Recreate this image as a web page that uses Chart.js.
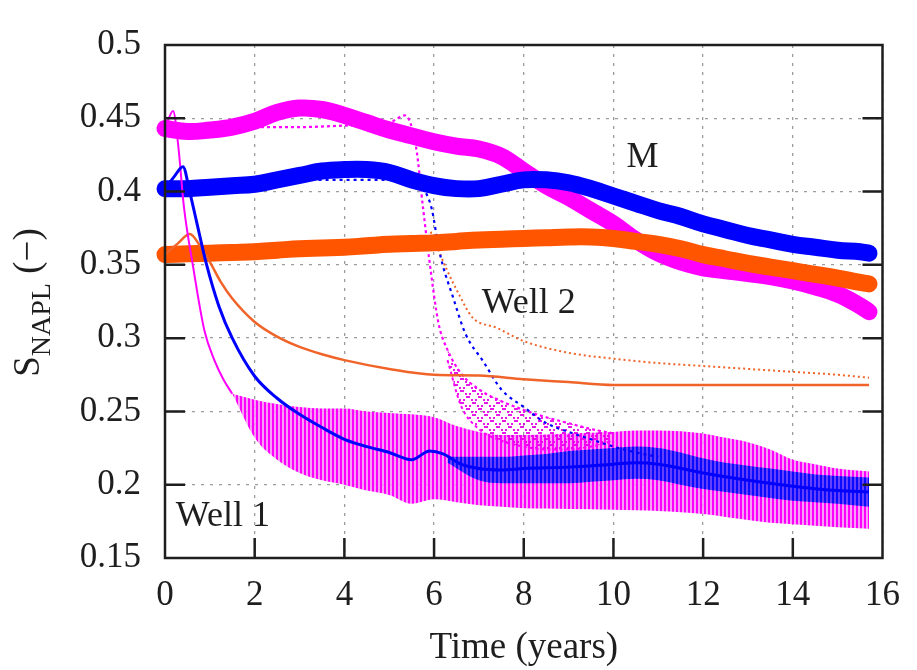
<!DOCTYPE html>
<html>
<head>
<meta charset="utf-8">
<style>
  html, body { margin: 0; padding: 0; background: #fff; }
  #wrap { width: 917px; height: 670px; }
</style>
</head>
<body>
<div id="wrap"><canvas id="napl"></canvas></div>
<script src="https://cdn.jsdelivr.net/npm/chart.js"></script>
<script>
  // axis ticks
  const xTickValues = [0, 2, 4, 6, 8, 10, 12, 14, 16];
  const xTickLabels = ['0', '2', '4', '6', '8', '10', '12', '14', '16'];
  const yTickValues = [0.15, 0.2, 0.25, 0.3, 0.35, 0.4, 0.45, 0.5];
  const yTickLabels = ['0.15', '0.2', '0.25', '0.3', '0.35', '0.4', '0.45', '0.5'];

  // mean saturation M (thick curves)
  const tM = [0, 0.5, 1, 1.5, 2, 2.5, 3, 3.5, 4, 4.5, 5, 5.5, 6, 6.5, 7, 7.5, 8, 8.5, 9, 9.5, 10, 10.5, 11, 11.5, 12, 12.5, 13, 13.5, 14, 14.5, 15, 15.5, 15.7];
  const mMagenta = [0.443, 0.441, 0.442, 0.444, 0.448, 0.454, 0.457, 0.456, 0.452, 0.447, 0.442, 0.438, 0.434, 0.431, 0.429, 0.424, 0.414, 0.404, 0.396, 0.387, 0.378, 0.367, 0.358, 0.352, 0.348, 0.346, 0.344, 0.342, 0.339, 0.335, 0.330, 0.322, 0.318];
  const mBlue = [0.402, 0.402, 0.403, 0.404, 0.405, 0.408, 0.411, 0.414, 0.415, 0.415, 0.413, 0.408, 0.404, 0.402, 0.402, 0.405, 0.408, 0.408, 0.406, 0.402, 0.397, 0.392, 0.387, 0.383, 0.378, 0.374, 0.370, 0.367, 0.364, 0.362, 0.360, 0.359, 0.358];
  const mOrange = [0.357, 0.3575, 0.358, 0.3585, 0.359, 0.360, 0.361, 0.3615, 0.362, 0.363, 0.364, 0.3645, 0.365, 0.366, 0.367, 0.3675, 0.368, 0.3685, 0.369, 0.369, 0.368, 0.366, 0.364, 0.361, 0.357, 0.354, 0.351, 0.3485, 0.346, 0.3435, 0.341, 0.338, 0.337];

  // well 1 (thin solid)
  const tW1Magenta = [0, 0.18, 0.3, 0.42, 0.62, 0.88, 1.1, 1.3, 1.5];
  const w1Magenta = [0.443, 0.455, 0.43, 0.39, 0.35, 0.305, 0.285, 0.272, 0.262];
  const tW1Blue = [0, 0.2, 0.4, 0.55, 0.7, 0.92, 1.2, 1.5, 2, 2.5, 3, 3.5, 4, 4.5, 5, 5.5, 5.9, 6.2, 6.6, 7, 7.5, 8, 9, 10, 10.5, 11, 12, 13, 14, 15, 15.7];
  const w1Blue = [0.402, 0.41, 0.417, 0.40, 0.38, 0.351, 0.322, 0.30, 0.274, 0.259, 0.248, 0.239, 0.231, 0.226, 0.222, 0.217, 0.223, 0.221, 0.214, 0.211, 0.210, 0.211, 0.212, 0.214, 0.215, 0.214, 0.208, 0.203, 0.199, 0.196, 0.195];
  const tW1Orange = [0, 0.3, 0.55, 0.8, 1, 1.25, 1.5, 2, 2.5, 3, 3.5, 4, 5, 6, 7, 8, 9, 10, 12, 14, 15.7];
  const w1Orange = [0.357, 0.365, 0.371, 0.362, 0.352, 0.338, 0.327, 0.311, 0.301, 0.294, 0.289, 0.285, 0.279, 0.275, 0.2745, 0.272, 0.270, 0.268, 0.268, 0.268, 0.268];

  // well 1 oscillation envelopes
  const tBandMagenta = [1.5, 2, 2.5, 3, 3.5, 4, 4.5, 5, 5.5, 6, 6.5, 7, 7.5, 8, 9, 10, 10.5, 11, 12, 12.5, 13, 13.5, 14, 14.5, 15, 15.7];
  const bandMagentaHi = [0.262, 0.258, 0.255, 0.253, 0.252, 0.252, 0.250, 0.249, 0.248, 0.246, 0.240, 0.236, 0.234, 0.234, 0.235, 0.236, 0.237, 0.237, 0.235, 0.232, 0.229, 0.224, 0.217, 0.214, 0.211, 0.209];
  const bandMagentaLo = [0.262, 0.232, 0.217, 0.208, 0.203, 0.200, 0.196, 0.193, 0.187, 0.190, 0.188, 0.186, 0.185, 0.184, 0.1835, 0.183, 0.1825, 0.182, 0.180, 0.178, 0.176, 0.174, 0.173, 0.172, 0.171, 0.170];
  const tBandBlue = [6.3, 7, 7.5, 8, 8.5, 9, 9.5, 10, 10.5, 11, 11.5, 12, 12.5, 13, 13.5, 14, 14.5, 15, 15.7];
  const bandBlueHi = [0.219, 0.219, 0.219, 0.220, 0.221, 0.223, 0.224, 0.225, 0.226, 0.225, 0.222, 0.218, 0.215, 0.213, 0.211, 0.209, 0.207, 0.206, 0.205];
  const bandBlueLo = [0.215, 0.203, 0.201, 0.201, 0.201, 0.201, 0.202, 0.203, 0.204, 0.203, 0.200, 0.197, 0.195, 0.193, 0.191, 0.189, 0.188, 0.187, 0.185];

  // well 2 (dotted)
  const tW2Magenta = [0, 1, 2, 3, 4, 5, 5.35, 5.6, 5.75, 5.9, 6.1, 6.3, 6.6, 7, 7.5, 8, 8.5, 9, 9.5, 10];
  const w2Magenta = [0.443, 0.444, 0.444, 0.444, 0.445, 0.447, 0.452, 0.43, 0.39, 0.352, 0.31, 0.292, 0.276, 0.265, 0.257, 0.251, 0.246, 0.242, 0.238, 0.235];
  const tMesh = [6.3, 6.6, 7, 7.5, 8, 8.5, 9, 9.5, 10];
  const meshHi = [0.292, 0.276, 0.265, 0.257, 0.251, 0.246, 0.242, 0.238, 0.235];
  const meshLo = [0.285, 0.254, 0.238, 0.230, 0.226, 0.224, 0.224, 0.226, 0.230];
  const tW2Blue = [0, 1, 2, 3, 4, 5, 5.5, 5.8, 5.95, 6.1, 6.2, 6.4, 6.7, 7.1, 7.5, 8, 8.5, 9, 9.5, 10, 10.5, 11];
  const w2Blue = [0.402, 0.406, 0.407, 0.408, 0.408, 0.408, 0.406, 0.400, 0.388, 0.362, 0.349, 0.330, 0.303, 0.284, 0.265, 0.253, 0.242, 0.236, 0.231, 0.226, 0.222, 0.219];
  const tW2Orange = [0, 1, 2, 3, 4, 5, 5.8, 5.95, 6.1, 6.28, 6.57, 6.86, 7.4, 8, 9, 10, 11, 12, 13, 14, 15, 15.7];
  const w2Orange = [0.357, 0.358, 0.359, 0.361, 0.362, 0.364, 0.366, 0.372, 0.36, 0.347, 0.329, 0.314, 0.307, 0.298, 0.29, 0.286, 0.283, 0.281, 0.279, 0.277, 0.275, 0.273];

  const MAG = '#ff00ff', BLUE = '#0000ff', ORANGE = '#ff5500', INK = '#1e1e1e';
  const SERIF = "'Liberation Serif', 'DejaVu Serif', serif";

  const canvas = document.getElementById('napl');
  const ctx0 = canvas.getContext('2d');

  function pts(t, v) { return t.map((x, i) => ({ x, y: v[i] })); }

  // vertical hatch used for the oscillating well 1 bands
  function stripes(on, off) {
    const c = document.createElement('canvas');
    c.width = 4; c.height = 1;
    const g = c.getContext('2d');
    g.fillStyle = off; g.fillRect(0, 0, 4, 1);
    g.fillStyle = on; g.fillRect(0, 0, 2, 1);
    return ctx0.createPattern(c, 'repeat');
  }
  // dotted cross-hatch for the well 2 mesh
  function mesh(col) {
    const c = document.createElement('canvas');
    c.width = 12; c.height = 12;
    const g = c.getContext('2d');
    g.fillStyle = col;
    for (let i = 0; i < 12; i += 3) { g.fillRect(i, i, 2, 2); g.fillRect(10 - i, i, 2, 2); }
    return ctx0.createPattern(c, 'repeat');
  }

  const none = 'rgba(0,0,0,0)';
  const base = { pointRadius: 0, cubicInterpolationMode: 'monotone', fill: false, borderJoinStyle: 'round' };
  const smooth = { pointRadius: 0, tension: 0.4, fill: false, borderJoinStyle: 'round', borderCapStyle: 'round', clip: 10 };

  // listed bottom layer first
  const layers = [
    { ...base, data: pts(tBandMagenta, bandMagentaLo), borderColor: none, borderWidth: 0 },
    { ...base, data: pts(tBandMagenta, bandMagentaHi), borderColor: none, borderWidth: 0, fill: '-1',
      backgroundColor: stripes('rgba(255,0,255,1)', 'rgba(248,140,248,0.85)') },
    { ...base, data: pts(tMesh, meshLo), borderColor: MAG, borderWidth: 2, borderDash: [3, 3] },
    { ...base, data: pts(tMesh, meshHi), borderColor: none, borderWidth: 0, fill: '-1',
      backgroundColor: mesh('rgba(230,0,230,0.9)') },
    { ...base, data: pts(tBandBlue, bandBlueLo), borderColor: none, borderWidth: 0 },
    { ...base, data: pts(tBandBlue, bandBlueHi), borderColor: none, borderWidth: 0, fill: '-1',
      backgroundColor: stripes('rgba(10,10,255,1)', 'rgba(60,40,255,0.8)') },
    { ...base, data: pts(tW2Orange, w2Orange), borderColor: '#f0642a', borderWidth: 2, borderDash: [2, 3] },
    { ...base, data: pts(tW2Magenta, w2Magenta), borderColor: MAG, borderWidth: 2.2, borderDash: [3, 3] },
    { ...base, data: pts(tW2Blue, w2Blue), borderColor: BLUE, borderWidth: 2.2, borderDash: [3, 4] },
    { ...smooth, data: pts(tM, mMagenta), borderColor: MAG, borderWidth: 17 },
    { ...smooth, data: pts(tM, mBlue), borderColor: BLUE, borderWidth: 17 },
    { ...smooth, data: pts(tM, mOrange), borderColor: ORANGE, borderWidth: 17 },
    { ...base, data: pts(tW1Orange, w1Orange), borderColor: '#f0642a', borderWidth: 2.5 },
    { ...base, data: pts(tW1Magenta, w1Magenta), borderColor: MAG, borderWidth: 2 },
    { ...base, data: pts(tW1Blue, w1Blue), borderColor: BLUE, borderWidth: 3 }
  ];
  layers.forEach((d, i) => { d.order = layers.length - i; });

  const notes = [
    { text: 'M', x: 10.65, y: 0.4165 },
    { text: 'Well 2', x: 8.11, y: 0.3171 },
    { text: 'Well 1', x: 1.29, y: 0.1715 }
  ];

  const frame = {
    id: 'frame',
    afterDatasetsDraw(chart) {
      const { ctx, scales: { x, y } } = chart;
      ctx.save();
      ctx.fillStyle = INK;
      ctx.font = '36px ' + SERIF;
      ctx.textAlign = 'center';
      ctx.textBaseline = 'alphabetic';
      notes.forEach(n => ctx.fillText(n.text, x.getPixelForValue(n.x), y.getPixelForValue(n.y)));
      ctx.restore();
    },
    afterDraw(chart) {
      const { ctx, chartArea: a, scales: { x, y } } = chart;
      ctx.save();
      ctx.strokeStyle = INK;
      ctx.lineWidth = 2.5;
      ctx.strokeRect(a.left, a.top, a.right - a.left, a.bottom - a.top);
      ctx.beginPath();
      xTickValues.slice(1, -1).forEach(v => {
        const px = x.getPixelForValue(v);
        ctx.moveTo(px, a.bottom); ctx.lineTo(px, a.bottom - 20);
      });
      yTickValues.slice(1, -1).forEach(v => {
        const py = y.getPixelForValue(v);
        ctx.moveTo(a.left, py); ctx.lineTo(a.left + 20, py);
        ctx.moveTo(a.right, py); ctx.lineTo(a.right - 20, py);
      });
      ctx.stroke();

      // y axis title with subscript, read bottom to top
      const parts = [
        { t: 'S', size: 37, base: 39 },
        { t: 'NAPL', size: 28, base: 50 },
        { t: ' (\u2212)', size: 37, base: 39 }
      ];
      let total = 0;
      parts.forEach(p => { ctx.font = p.size + 'px ' + SERIF; p.w = ctx.measureText(p.t).width; total += p.w; });
      ctx.translate(0, (a.top + a.bottom) / 2 + 1);
      ctx.rotate(-Math.PI / 2);
      ctx.fillStyle = INK;
      ctx.textBaseline = 'alphabetic';
      ctx.textAlign = 'left';
      let u = -total / 2;
      parts.forEach(p => {
        ctx.font = p.size + 'px ' + SERIF;
        ctx.fillText(p.t, u, p.base);
        u += p.w;
      });
      ctx.restore();
    }
  };

  new Chart(canvas, {
    type: 'line',
    data: { datasets: layers },
    options: {
      responsive: true,
      maintainAspectRatio: false,
      animation: false,
      layout: { padding: { top: 22, right: 25, left: 0, bottom: 0 } },
      plugins: { legend: { display: false }, tooltip: { enabled: false } },
      scales: {
        x: {
          type: 'linear', min: 0, max: 16,
          afterFit: s => { s.height = 112; },
          afterBuildTicks: s => { s.ticks = xTickValues.map(v => ({ value: v })); },
          grid: { color: '#9c9c9c', lineWidth: 1.3, drawTicks: false },
          border: { display: false, dash: [3, 6] },
          ticks: {
            autoSkip: false, maxRotation: 0, padding: 17, color: INK,
            font: { family: SERIF, size: 35 },
            callback: (v, i) => xTickLabels[i]
          },
          title: { display: true, text: 'Time (years)', color: INK, font: { family: SERIF, size: 37 }, padding: { top: 0, bottom: 0 } }
        },
        y: {
          type: 'linear', min: 0.15, max: 0.5,
          afterFit: s => { s.width = 165; },
          afterBuildTicks: s => { s.ticks = yTickValues.map(v => ({ value: v })); },
          grid: { color: '#9c9c9c', lineWidth: 1.3, drawTicks: false },
          border: { display: false, dash: [3, 6] },
          ticks: {
            autoSkip: false, padding: 24, color: INK,
            font: { family: SERIF, size: 35 },
            callback: (v, i) => yTickLabels[i]
          }
        }
      }
    },
    plugins: [frame]
  });
</script>
</body>
</html>
